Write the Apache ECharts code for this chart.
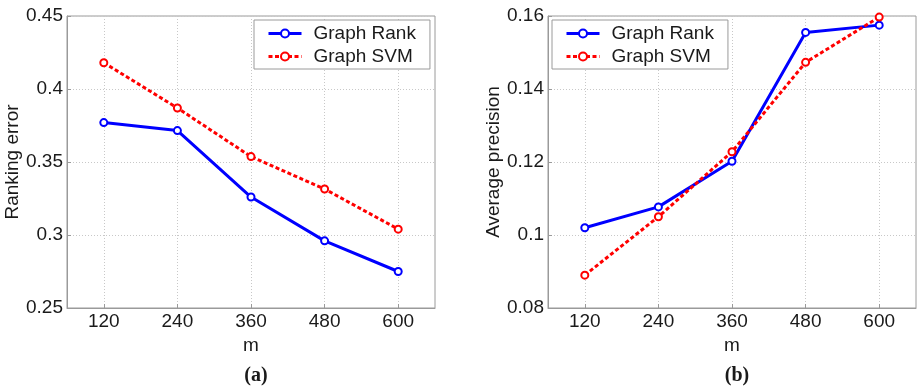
<!DOCTYPE html>
<html>
<head>
<meta charset="utf-8">
<script src="https://cdn.jsdelivr.net/npm/echarts@6/dist/echarts.min.js"></script>
<style>html,body{margin:0;padding:0;background:#fff}#c{width:917px;height:387px}</style>
</head>
<body>
<div id="c"></div>
<script>
var mValues = [120, 240, 360, 480, 600];
var rankErrGraphRank = [0.377, 0.3715, 0.326, 0.296, 0.275];
var rankErrGraphSVM = [0.418, 0.387, 0.3537, 0.3315, 0.304];
var apGraphRank = [0.102, 0.1077, 0.1202, 0.1555, 0.1575];
var apGraphSVM = [0.089, 0.105, 0.1228, 0.1473, 0.1597];
var seriesNames = ['Graph Rank', 'Graph SVM'];
var panelLabels = ['(a)', '(b)'];
var yNames = ['Ranking error', 'Average precision'];

function pairs(xs, ys) { return xs.map(function (x, i) { return [x, ys[i]]; }); }

var font = 'Liberation Sans, Arial, sans-serif';
var txt = '#1a1a1a';
var boxColor = '#9a9a9a';

function xAxis(gi) {
  return {
    type: 'value', gridIndex: gi, min: 60, max: 660,
    name: 'm', nameLocation: 'middle', nameGap: 21,
    nameTextStyle: { fontFamily: font, fontSize: 19, color: txt },
    axisLine: { show: true, lineStyle: { color: boxColor } },
    axisTick: { show: true, inside: true, length: 4, customValues: mValues, lineStyle: { color: boxColor } },
    axisLabel: { customValues: mValues, margin: 4, fontFamily: font, fontSize: 19, color: txt },
    splitLine: { show: true, lineStyle: { color: '#c8c8c8', type: [1, 2], width: 1 } }
  };
}
function yAxis(gi, min, max, step, nm) {
  return {
    type: 'value', gridIndex: gi, min: min, max: max, interval: step,
    name: nm, nameLocation: 'middle', nameGap: 42,
    nameTextStyle: { fontFamily: font, fontSize: 19, color: txt },
    axisLine: { show: true, lineStyle: { color: boxColor } },
    axisTick: { show: true, inside: true, length: 4, lineStyle: { color: boxColor } },
    axisLabel: { margin: 4, fontFamily: font, fontSize: 19, color: txt },
    splitLine: { show: true, lineStyle: { color: '#c8c8c8', type: [1, 2], width: 1 } }
  };
}
function legend(left) {
  return {
    left: left, top: 20, orient: 'vertical',
    data: seriesNames,
    itemWidth: 33, itemHeight: 10, itemGap: 4,
    padding: [4, 14, 3, 13],
    borderColor: boxColor, borderWidth: 1, backgroundColor: '#fff',
    lineStyle: { width: 3 },
    textStyle: { fontFamily: font, fontSize: 19, color: txt, padding: [0, 0, 0, 7] }
  };
}
function ser(name, gi, ys, color, dashed) {
  return {
    type: 'line', name: name, xAxisIndex: gi, yAxisIndex: gi,
    data: pairs(mValues, ys),
    symbol: 'emptyCircle', symbolSize: 7,
    lineStyle: { color: color, width: 3, type: dashed ? [4, 2.5] : 'solid' },
    itemStyle: { color: color, borderColor: color, borderWidth: 3 },
    emphasis: { disabled: true },
    animation: false, z: dashed ? 3 : 2
  };
}

var chart = echarts.init(document.getElementById('c'), null, { renderer: 'canvas' });
chart.setOption({
  animation: false,
  title: [
    { text: panelLabels[0], left: 251, top: 361, textAlign: 'center', textStyle: { fontFamily: 'Liberation Serif, Times New Roman, serif', fontWeight: 'bold', fontSize: 20, color: txt } },
    { text: panelLabels[1], left: 732, top: 361, textAlign: 'center', textStyle: { fontFamily: 'Liberation Serif, Times New Roman, serif', fontWeight: 'bold', fontSize: 20, color: txt } }
  ],
  grid: [
    { left: 67, top: 16, width: 368, height: 292, show: true, borderColor: boxColor, borderWidth: 1, backgroundColor: '#fff' },
    { left: 548, top: 16, width: 368, height: 292, show: true, borderColor: boxColor, borderWidth: 1, backgroundColor: '#fff' }
  ],
  xAxis: [xAxis(0), xAxis(1)],
  yAxis: [yAxis(0, 0.25, 0.45, 0.05, yNames[0]), yAxis(1, 0.08, 0.16, 0.02, yNames[1])],
  legend: [legend(254), legend(552)],
  series: [
    ser(seriesNames[0], 0, rankErrGraphRank, '#0000ff', false),
    ser(seriesNames[1], 0, rankErrGraphSVM, '#ff0000', true),
    ser(seriesNames[0], 1, apGraphRank, '#0000ff', false),
    ser(seriesNames[1], 1, apGraphSVM, '#ff0000', true)
  ]
});
</script>
</body>
</html>
